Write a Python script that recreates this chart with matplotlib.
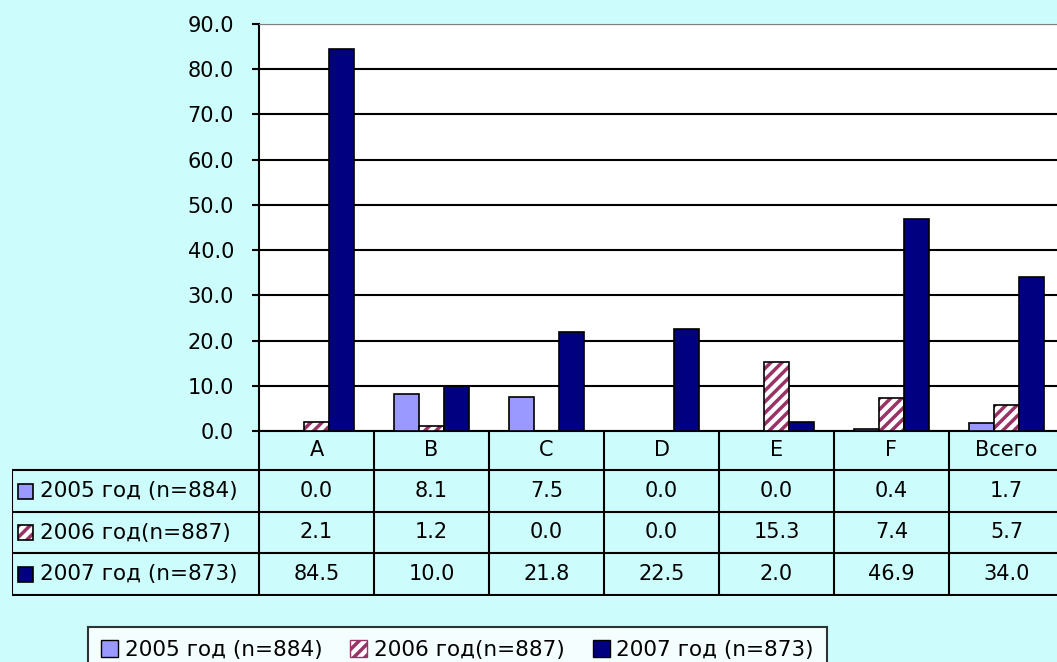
import numpy as np
import matplotlib
matplotlib.use("Agg")
import matplotlib.pyplot as plt
from matplotlib.patches import Rectangle, Patch

categories = ["A", "B", "C", "D", "E", "F", "Всего"]
series_labels = ["2005 год (n=884)", "2006 год(n=887)", "2007 год (n=873)"]
v2005 = [0.0, 8.1, 7.5, 0.0, 0.0, 0.4, 1.7]
v2006 = [2.1, 1.2, 0.0, 0.0, 15.3, 7.4, 5.7]
v2007 = [84.5, 10.0, 21.8, 22.5, 2.0, 46.9, 34.0]
yticks = [0, 10, 20, 30, 40, 50, 60, 70, 80, 90]

plt.rcParams['font.family'] = ['DejaVu Sans']
plt.rcParams['hatch.linewidth'] = 2.5

W, H = 1057, 662
bg = "#CCFCFC"
navy = "#000080"
lilac = "#9999FF"
maroon = "#993366"

fig = plt.figure(figsize=(W / 100, H / 100), dpi=100, facecolor=bg)

# main plot area (right edge runs past the picture, like the source)
x0, x1 = 259, 1064
ax = fig.add_axes([x0 / W, (H - 431) / H, (x1 - x0) / W, (431 - 24) / H])
ax.set_facecolor("white")
x = np.arange(len(categories))
bw = 0.22
ax.bar(x - bw, v2005, bw, color=lilac, edgecolor="black", linewidth=1.2, zorder=3)
# hatched bar: stripes in maroon, outline in black
ax.bar(x, v2006, bw, color="white", edgecolor=maroon, hatch="///", linewidth=0, zorder=3)
ax.bar(x, v2006, bw, color="none", edgecolor="black", linewidth=1.2, zorder=4)
ax.bar(x + bw, v2007, bw, color=navy, edgecolor="black", linewidth=1.2, zorder=3)
ax.set_xlim(-0.5, len(categories) - 0.5)
ax.set_ylim(0, 90)
ax.set_yticks(yticks)
ax.set_yticklabels([f"{t:.1f}" for t in yticks], fontsize=15)
ax.tick_params(axis="y", length=5, width=1.5, pad=13)
ax.set_xticks([])
ax.yaxis.grid(True, color="black", linewidth=1.5, zorder=1)
ax.set_axisbelow(True)
ax.spines["right"].set_visible(False)
ax.spines["top"].set_color("#808080")
ax.spines["left"].set_linewidth(1.5)
ax.spines["bottom"].set_linewidth(1.5)

# data table below the plot
tx0 = 12
unit = (x1 - x0) / len(categories)
left_units = (x0 - tx0) / unit
tab = fig.add_axes([tx0 / W, (H - 596) / H, (x1 - tx0) / W, (596 - 431) / H])
tab.set_xlim(-0.5 - left_units, len(categories) - 0.5)
tab.set_ylim(596, 431)
tab.axis("off")
rows_y = [431, 470, 512, 553, 595]
lw = 1.5
lx = -0.5 - left_units
for i in range(len(categories) + 1):
    tab.plot([i - 0.5, i - 0.5], [431, 595], color="black", lw=lw)
tab.plot([lx, lx], [470, 595], color="black", lw=lw)
for yy in rows_y[1:]:
    tab.plot([lx, len(categories) - 0.5], [yy, yy], color="black", lw=lw)
for i, c in enumerate(categories):
    tab.text(i, (rows_y[0] + rows_y[1]) / 2, c, ha="center", va="center", fontsize=15)
for r, (vals, lab) in enumerate(zip([v2005, v2006, v2007], series_labels)):
    yc = (rows_y[r + 1] + rows_y[r + 2]) / 2
    for i, v in enumerate(vals):
        tab.text(i, yc, f"{v:.1f}", ha="center", va="center", fontsize=15)
    tab.text(lx + 28 / unit, yc, lab, ha="left", va="center", fontsize=15.5)

# little swatches in the row labels
sw = 15 / unit
swatch_style = [dict(facecolor=lilac, edgecolor="black", hatch=None),
                dict(facecolor="white", edgecolor=maroon, hatch="///"),
                dict(facecolor=navy, edgecolor="black", hatch=None)]
for r, st in enumerate(swatch_style):
    yc = (rows_y[r + 1] + rows_y[r + 2]) / 2
    tab.add_patch(Rectangle((lx + 6 / unit, yc - 7.5), sw, 15, lw=0 if st["hatch"] else 1.2,
                            clip_on=False, **st))
    if st["hatch"]:
        tab.add_patch(Rectangle((lx + 6 / unit, yc - 7.5), sw, 15, facecolor="none",
                                edgecolor="black", lw=1.2, clip_on=False))

# legend box at the bottom (runs off the lower edge in the source)
handles = [Patch(facecolor=lilac, edgecolor="black"),
           Patch(facecolor="white", edgecolor=maroon, hatch="///"),
           Patch(facecolor=navy, edgecolor="black")]
leg = fig.legend(handles, series_labels, ncol=3, loc="upper left",
                 bbox_to_anchor=(88 / W, (H - 627) / H), fontsize=15.5,
                 frameon=True, fancybox=False, handlelength=0.8, handleheight=0.8,
                 handletextpad=0.3, columnspacing=1.3, borderpad=0.6, borderaxespad=0)
leg.get_frame().set_edgecolor("black")
leg.get_frame().set_linewidth(1.5)
leg.get_frame().set_facecolor("white")

fig.savefig("out.png", dpi=100, facecolor=bg)
